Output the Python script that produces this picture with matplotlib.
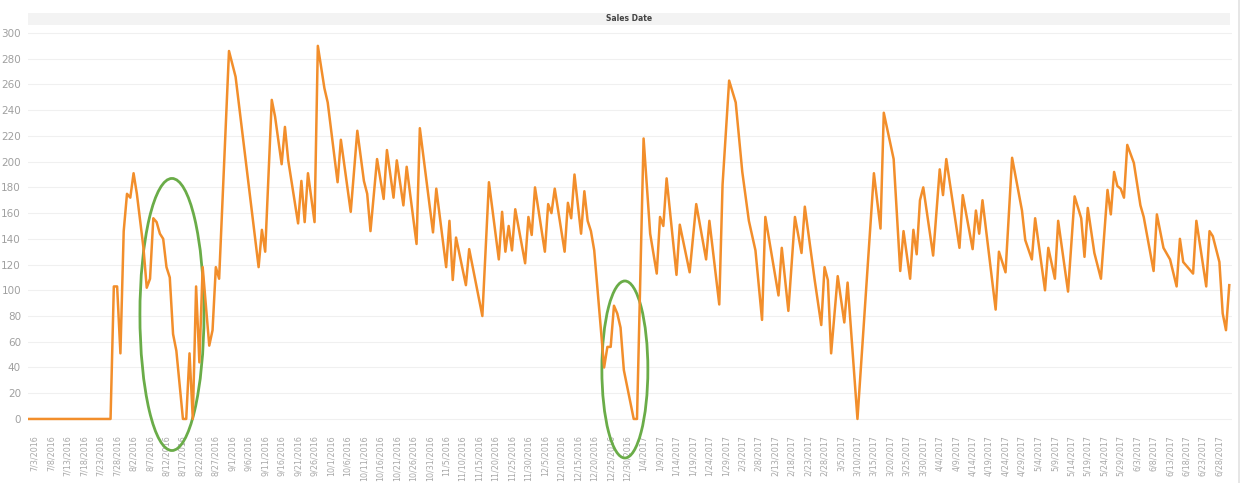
import matplotlib
matplotlib.use('Agg')
import matplotlib.pyplot as plt
from matplotlib.patches import Ellipse, Rectangle
import pandas as pd

sale_dates = [
    '2016-07-01', '2016-07-26', '2016-07-27', '2016-07-28', '2016-07-29', '2016-07-30', '2016-07-31',
    '2016-08-01', '2016-08-02', '2016-08-03', '2016-08-05', '2016-08-06', '2016-08-07', '2016-08-08',
    '2016-08-09', '2016-08-10', '2016-08-11', '2016-08-12', '2016-08-13', '2016-08-14', '2016-08-15',
    '2016-08-17', '2016-08-18', '2016-08-19', '2016-08-20', '2016-08-21', '2016-08-22', '2016-08-23',
    '2016-08-25', '2016-08-26', '2016-08-27', '2016-08-28', '2016-08-31', '2016-09-02', '2016-09-09',
    '2016-09-10', '2016-09-11', '2016-09-13', '2016-09-14', '2016-09-16', '2016-09-17', '2016-09-18',
    '2016-09-21', '2016-09-22', '2016-09-23', '2016-09-24', '2016-09-26', '2016-09-27', '2016-09-29',
    '2016-09-30', '2016-10-03', '2016-10-04', '2016-10-07', '2016-10-09', '2016-10-11', '2016-10-12',
    '2016-10-13', '2016-10-15', '2016-10-17', '2016-10-18', '2016-10-20', '2016-10-21', '2016-10-23',
    '2016-10-24', '2016-10-27', '2016-10-28', '2016-11-01', '2016-11-02', '2016-11-05', '2016-11-06',
    '2016-11-07', '2016-11-08', '2016-11-11', '2016-11-12', '2016-11-16', '2016-11-18', '2016-11-21',
    '2016-11-22', '2016-11-23', '2016-11-24', '2016-11-25', '2016-11-26', '2016-11-29', '2016-11-30',
    '2016-12-01', '2016-12-02', '2016-12-05', '2016-12-06', '2016-12-07', '2016-12-08', '2016-12-11',
    '2016-12-12', '2016-12-13', '2016-12-14', '2016-12-16', '2016-12-17', '2016-12-18', '2016-12-19',
    '2016-12-20', '2016-12-23', '2016-12-24', '2016-12-25', '2016-12-26', '2016-12-27', '2016-12-28',
    '2016-12-29', '2017-01-01', '2017-01-02', '2017-01-04', '2017-01-06', '2017-01-08', '2017-01-09',
    '2017-01-10', '2017-01-11', '2017-01-14', '2017-01-15', '2017-01-18', '2017-01-20', '2017-01-23',
    '2017-01-24', '2017-01-27', '2017-01-28', '2017-01-30', '2017-02-01', '2017-02-03', '2017-02-05',
    '2017-02-07', '2017-02-09', '2017-02-10', '2017-02-14', '2017-02-15', '2017-02-17', '2017-02-19',
    '2017-02-21', '2017-02-22', '2017-02-25', '2017-02-27', '2017-02-28', '2017-03-01', '2017-03-02',
    '2017-03-04', '2017-03-06', '2017-03-07', '2017-03-10', '2017-03-15', '2017-03-17', '2017-03-18',
    '2017-03-21', '2017-03-23', '2017-03-24', '2017-03-26', '2017-03-27', '2017-03-28', '2017-03-29',
    '2017-03-30', '2017-04-02', '2017-04-04', '2017-04-05', '2017-04-06', '2017-04-10', '2017-04-11',
    '2017-04-14', '2017-04-15', '2017-04-16', '2017-04-17', '2017-04-21', '2017-04-22', '2017-04-24',
    '2017-04-26', '2017-04-29', '2017-04-30', '2017-05-02', '2017-05-03', '2017-05-06', '2017-05-07',
    '2017-05-09', '2017-05-10', '2017-05-13', '2017-05-15', '2017-05-17', '2017-05-18', '2017-05-19',
    '2017-05-21', '2017-05-23', '2017-05-25', '2017-05-26', '2017-05-27', '2017-05-28', '2017-05-29',
    '2017-05-30', '2017-05-31', '2017-06-02', '2017-06-04', '2017-06-05', '2017-06-08', '2017-06-09',
    '2017-06-11', '2017-06-13', '2017-06-15', '2017-06-16', '2017-06-17', '2017-06-19', '2017-06-20',
    '2017-06-21', '2017-06-24', '2017-06-25', '2017-06-26', '2017-06-28', '2017-06-29', '2017-06-30',
    '2017-07-01',
]

sales = [
    0, 0, 103, 103, 51, 146, 175,
    172, 191, 175, 133, 102, 109, 156,
    153, 144, 140, 118, 110, 66, 53,
    0, 0, 51, 0, 103, 44, 118,
    57, 69, 118, 109, 286, 266, 118,
    147, 130, 248, 235, 198, 227, 201,
    152, 185, 153, 191, 153, 290, 257,
    246, 184, 217, 161, 224, 185, 175,
    146, 202, 171, 209, 172, 201, 166,
    196, 136, 226, 145, 179, 118, 154,
    108, 141, 104, 132, 80, 184, 124,
    161, 130, 150, 131, 163, 121, 157,
    143, 180, 130, 167, 160, 179, 130,
    168, 156, 190, 144, 177, 154, 146,
    131, 40, 56, 56, 88, 82, 71,
    38, 0, 0, 218, 144, 113, 157,
    150, 187, 112, 151, 114, 167, 124,
    154, 89, 182, 263, 246, 192, 154,
    131, 77, 157, 96, 133, 84, 157,
    129, 165, 108, 73, 118, 108, 51,
    111, 75, 106, 0, 191, 148, 238,
    202, 115, 146, 109, 147, 128, 170,
    180, 127, 194, 174, 202, 133, 174,
    132, 162, 144, 170, 85, 130, 114,
    203, 162, 139, 124, 156, 100, 133,
    109, 154, 99, 173, 156, 126, 164,
    129, 109, 178, 159, 192, 181, 179,
    172, 213, 199, 166, 157, 115, 159,
    133, 124, 103, 140, 122, 116, 113,
    154, 103, 146, 142, 122, 82, 69,
    104,
]

tick_dates = pd.date_range('2016-07-03', '2017-06-28', freq='5D')
tick_labels = [f'{d.month}/{d.day}/{d.year}' for d in tick_dates]
y_ticks = list(range(0, 301, 20))

x = pd.to_datetime(sale_dates)

fig = plt.figure(figsize=(12.48, 4.83), dpi=100)
ax = fig.add_axes([0.0224, 0.1222, 0.9647, 0.8199])

ax.plot(x, sales, color='#f28e2b', lw=1.8)

start = pd.Timestamp('2016-07-03')
ax.set_xlim(start - pd.Timedelta(days=2.1), start + pd.Timedelta(days=363.8))
ax.set_ylim(-3.9, 303.9)

ax.set_xticks(tick_dates)
ax.set_xticklabels(tick_labels, rotation=90, fontsize=5.8, color='#a8a8a8')
ax.set_yticks(y_ticks)
ax.set_yticklabels([str(v) for v in y_ticks], fontsize=7.5, color='#a0a0a0')
ax.tick_params(axis='both', length=0)
ax.tick_params(axis='x', pad=8)
ax.tick_params(axis='y', pad=5)
ax.grid(axis='y', color='#f0f0f0', lw=0.8)
ax.grid(axis='x', visible=False)
ax.set_axisbelow(True)
for s in ax.spines.values():
    s.set_visible(False)

# header band with the field name
fig.add_artist(Rectangle((0.0224, 0.948), 0.963, 0.0248, transform=fig.transFigure,
                         facecolor='#f3f3f3', edgecolor='none'))
fig.text(0.504, 0.9607, 'Sales Date', ha='center', va='center', fontsize=5.5,
         fontweight='bold', color='#444444')

# right border line
fig.add_artist(plt.Line2D([0.9928, 0.9928], [0, 1], transform=fig.transFigure,
                          color='#e2e2e2', lw=1.2))

# green circles marking the dips
for cx, cy, w, h in [(0.1196, 0.2765, 0.0532, 0.687), (0.4958, 0.1376, 0.0382, 0.447)]:
    ax.add_patch(Ellipse((cx, cy), w, h, transform=ax.transAxes, fill=False,
                         edgecolor='#6aac48', lw=2.0, clip_on=False))

fig.savefig('out.png', dpi=100)
